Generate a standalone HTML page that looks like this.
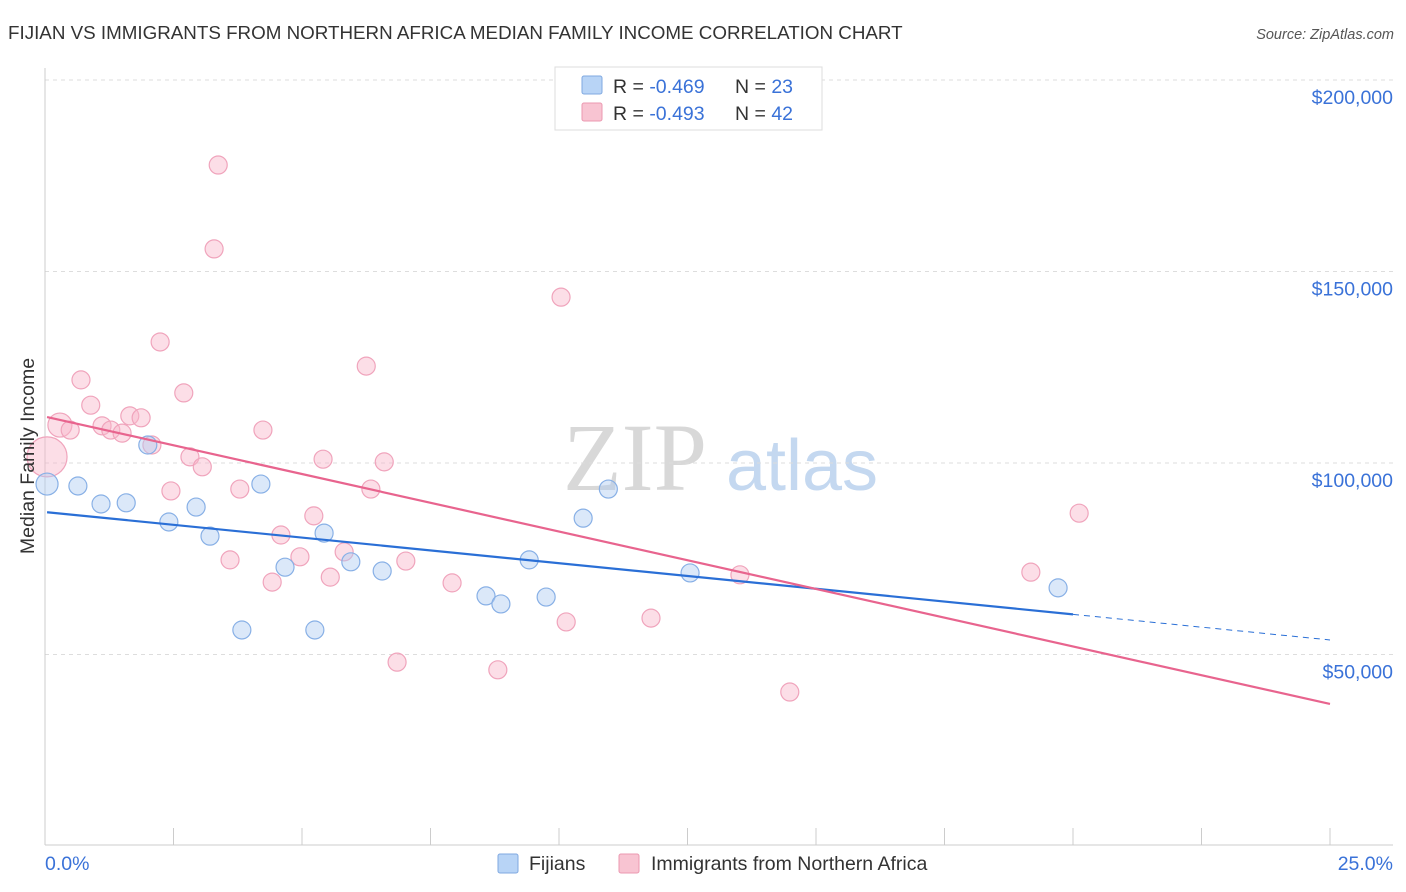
<!DOCTYPE html>
<html><head><meta charset="utf-8"><style>
body{margin:0;background:#fff;font-family:"Liberation Sans",sans-serif;}
#wrap{position:relative;width:1406px;height:892px;overflow:hidden}
</style></head><body>
<div id="wrap">
<svg id="chart" width="1406" height="892">
<text x="8" y="39" font-size="18.8" fill="#333">FIJIAN VS IMMIGRANTS FROM NORTHERN AFRICA MEDIAN FAMILY INCOME CORRELATION CHART</text>
<text x="1394" y="39" font-size="14.5" fill="#555" font-style="italic" text-anchor="end">Source: ZipAtlas.com</text>
<g><text x="635" y="490" font-family="Liberation Serif,serif" font-size="96" fill="#d8d8d8" text-anchor="middle">ZIP</text><text x="802" y="490" font-size="72" fill="#c4d8f0" text-anchor="middle">atlas</text></g>
<g id="grid"></g>
<g id="axes"></g>
<g id="pts"></g>
<g id="trend"></g>
<text transform="translate(34,456) rotate(-90)" font-size="19.5" fill="#333" text-anchor="middle">Median Family Income</text>
<g>
<rect x="555" y="67" width="267" height="63" fill="#fff" stroke="#ddd"/>
<rect x="582" y="76" width="20" height="18" fill="#b8d4f6" stroke="#7fa8e0" rx="2"/>
<text x="613" y="93" font-size="19.5" fill="#333">R = <tspan fill="#3a72d8">-0.469</tspan></text>
<text x="735" y="93" font-size="19.5" fill="#333">N = <tspan fill="#3a72d8">23</tspan></text>
<rect x="582" y="103" width="20" height="18" fill="#f8c4d2" stroke="#eb98b0" rx="2"/>
<text x="613" y="120" font-size="19.5" fill="#333">R = <tspan fill="#3a72d8">-0.493</tspan></text>
<text x="735" y="120" font-size="19.5" fill="#333">N = <tspan fill="#3a72d8">42</tspan></text>
</g>
<g>
<rect x="498" y="854" width="20" height="19" fill="#b8d4f6" stroke="#7fa8e0" rx="2"/>
<text x="529" y="870" font-size="19.5" fill="#333">Fijians</text>
<rect x="619" y="854" width="20" height="19" fill="#f8c4d2" stroke="#eb98b0" rx="2"/>
<text x="651" y="870" font-size="19.5" fill="#333">Immigrants from Northern Africa</text>
</g>
</svg>
</div>
<script>
const yTicks=[50,100,150,200];
const yTickLabels=["$50,000","$100,000","$150,000","$200,000"];
const xTickLabels=["0.0%","25.0%"];
const fijiX=[0.04,0.64,1.09,1.58,2.00,2.41,2.94,3.21,3.83,4.20,4.67,5.25,5.43,5.95,6.56,8.58,8.87,9.42,9.75,10.47,10.96,12.55,19.71];
const fijiY=[94.5,94.0,89.3,89.6,104.7,84.6,88.5,80.9,56.4,94.5,72.8,56.4,81.7,74.2,71.8,65.3,63.2,74.7,65.0,85.6,93.2,71.3,67.4];
const immX=[0.04,0.29,0.49,0.70,0.89,1.11,1.28,1.50,1.65,1.87,2.08,2.24,2.45,2.70,2.82,3.06,3.29,3.37,3.79,3.60,4.24,4.42,4.59,4.96,5.23,5.41,5.55,5.82,6.25,6.34,6.60,6.85,7.02,7.92,8.81,10.04,10.14,11.79,13.52,14.49,19.18,20.12];
const immY=[101.6,109.9,108.6,121.7,115.1,109.7,108.6,107.8,112.3,111.8,104.7,131.6,92.7,118.3,101.6,99.0,155.9,177.8,93.2,74.7,108.6,68.9,81.2,75.5,86.2,101.0,70.2,76.8,125.3,93.2,100.3,48.0,74.4,68.7,46.0,143.3,58.5,59.5,70.8,40.2,71.5,86.9];
const fijiTrend=[87.2,53.8];
const immTrend=[112.0,37.1];
const NS="http://www.w3.org/2000/svg";
const X=p=>45+p*51.4;
const Y=v=>846-v*3.83;
function mk(par,tag,at){const e=document.createElementNS(NS,tag);for(const k in at)e.setAttribute(k,at[k]);document.getElementById(par).appendChild(e);return e;}
yTicks.forEach((t,i)=>{
 const l=mk('grid','line',{x1:45,x2:1393,y1:Y(t),y2:Y(t),stroke:'#ddd','stroke-dasharray':'4,4'});
 
 
 const tx=mk('grid','text',{x:1393,y:Y(t)+24,'font-size':19.5,fill:'#3a72d8','text-anchor':'end'});
 tx.textContent=yTickLabels[i];
 
 
});
let a=mk('axes','line',{x1:45,x2:45,y1:68,y2:845,stroke:'#ccc'});


a=mk('axes','line',{x1:45,x2:1393,y1:845,y2:845,stroke:'#ccc'});


for(let i=1;i<=10;i++){const t=mk('axes','line',{x1:X(i*2.5),x2:X(i*2.5),y1:828,y2:845,stroke:'#ccc'});
 
 }
let t0=mk('axes','text',{x:45,y:870,'font-size':19.5,fill:'#3a72d8'});t0.textContent=xTickLabels[0];


let t1=mk('axes','text',{x:1393,y:870,'font-size':19.5,fill:'#3a72d8','text-anchor':'end'});t1.textContent=xTickLabels[1];


immX.forEach((x,i)=>{const r=i==0?20:(i==1?12:9);
 const c=mk('pts','circle',{cx:X(x),cy:Y(immY[i]),r:r,fill:'rgba(248,182,202,0.45)',stroke:'#f0a4bc','stroke-width':1.2});
 
 });
fijiX.forEach((x,i)=>{const r=i==0?11:9;
 const c=mk('pts','circle',{cx:X(x),cy:Y(fijiY[i]),r:r,fill:'rgba(176,204,242,0.45)',stroke:'#88b0e6','stroke-width':1.2});
 
 });
const fy=p=>fijiTrend[0]+(fijiTrend[1]-fijiTrend[0])*p/25;
let l1=mk('trend','line',{x1:X(0.04),y1:Y(fy(0.04)),x2:X(20),y2:Y(fy(20)),stroke:'#2a6fd6','stroke-width':2.2});


let l2=mk('trend','line',{x1:X(20),y1:Y(fy(20)),x2:X(25),y2:Y(fy(25)),stroke:'#2a6fd6','stroke-width':1,'stroke-dasharray':'6,5'});


let l3=mk('trend','line',{x1:X(0.04),y1:Y(immTrend[0]),x2:X(25),y2:Y(immTrend[1]),stroke:'#e8648e','stroke-width':2.2});


</script>
</body></html>
